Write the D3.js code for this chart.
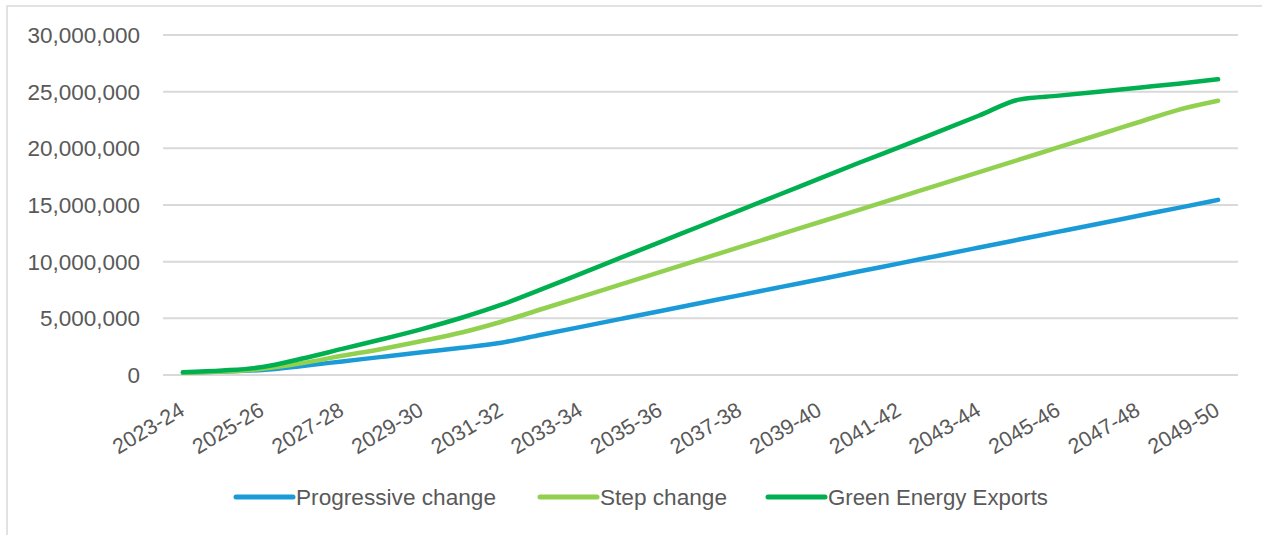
<!DOCTYPE html>
<html lang="en">
<head>
  <meta charset="UTF-8">
  <title>scenarios</title>
  <style>
    body { margin: 0; background: #fff; }
    text { font-family: "Liberation Sans", Arial, sans-serif; fill: #595959; }
  </style>
</head>
<body>
  <script src="https://d3js.org/d3.v7.min.js"></script>
  <script>
  // years 2023-24 .. 2049-50
  var years = [
    "2023-24", "2024-25", "2025-26", "2026-27", "2027-28", "2028-29", "2029-30",
    "2030-31", "2031-32", "2032-33", "2033-34", "2034-35", "2035-36", "2036-37",
    "2037-38", "2038-39", "2039-40", "2040-41", "2041-42", "2042-43", "2043-44",
    "2044-45", "2045-46", "2046-47", "2047-48", "2048-49", "2049-50"
  ];

  var progressive = [
    200000, 300000, 450000, 800000, 1200000, 1600000, 2000000,
    2400000, 2850000, 3550000, 4250000, 4950000, 5650000, 6350000,
    7050000, 7750000, 8450000, 9150000, 9850000, 10550000, 11250000,
    11950000, 12650000, 13350000, 14050000, 14750000, 15450000
  ];

  var stepChange = [
    200000, 300000, 550000, 1050000, 1700000, 2300000, 3000000,
    3750000, 4700000, 5800000, 6900000, 8000000, 9100000, 10200000,
    11300000, 12400000, 13500000, 14600000, 15700000, 16800000, 17900000,
    19000000, 20100000, 21200000, 22300000, 23400000, 24200000
  ];

  var greenExports = [
    250000, 400000, 700000, 1450000, 2300000, 3150000, 4050000,
    5050000, 6200000, 7550000, 8950000, 10350000, 11750000, 13150000,
    14550000, 15950000, 17350000, 18750000, 20100000, 21500000, 22900000,
    24300000, 24650000, 25000000, 25350000, 25700000, 26100000
  ];

  var seriesNames = ["Progressive change", "Step change", "Green Energy Exports"];
  var seriesColors = ["#1a9bd7", "#92d050", "#00b050"];
  var yTicks = [0, 5000000, 10000000, 15000000, 20000000, 25000000, 30000000];

  var w = 1262, h = 535;
  var plotL = 163, plotR = 1238, plotT = 35, plotB = 375;

  var svg = d3.select('body').append('svg')
    .attr('width', w).attr('height', h);

  // chart frame
  svg.append('rect')
    .attr('x', 7).attr('y', 6)
    .attr('width', w + 20).attr('height', h + 20)
    .attr('fill', 'none').attr('stroke', '#d9d9d9').attr('stroke-width', 1.5);

  var x = d3.scalePoint().domain(years).range([plotL, plotR]).padding(0.5);
  var y = d3.scaleLinear().domain([0, 30000000]).range([plotB, plotT]);

  // gridlines
  svg.append('g').selectAll('line')
    .data(yTicks).enter().append('line')
    .attr('x1', plotL).attr('x2', plotR)
    .attr('y1', function (d) { return y(d); })
    .attr('y2', function (d) { return y(d); })
    .attr('stroke', '#d9d9d9').attr('stroke-width', 2);

  // y labels
  var fmt = d3.format(',');
  svg.append('g').selectAll('text')
    .data(yTicks).enter().append('text')
    .attr('x', 140)
    .attr('y', function (d) { return y(d); })
    .attr('dy', '0.35em')
    .attr('text-anchor', 'end')
    .style('font-size', '22.5px')
    .text(function (d) { return fmt(d); });

  // x labels (every second year)
  var shown = years.filter(function (d, i) { return i % 2 === 0; });
  svg.append('g').selectAll('text')
    .data(shown).enter().append('text')
    .attr('transform', function (d) { return 'translate(' + (x(d) + 3) + ',' + 414 + ') rotate(-31)'; })
    .attr('text-anchor', 'end')
    .style('font-size', '21.5px')
    .text(function (d) { return d; });

  // lines
  var allSeries = [progressive, stepChange, greenExports];
  var line = d3.line()
    .x(function (d, i) { return x(years[i]); })
    .y(function (d) { return y(d); })
    .curve(d3.curveMonotoneX);

  svg.append('g').selectAll('path')
    .data(allSeries).enter().append('path')
    .attr('d', function (d) { return line(d); })
    .attr('fill', 'none')
    .attr('stroke', function (d, i) { return seriesColors[i]; })
    .attr('stroke-width', 4.5)
    .attr('stroke-linecap', 'round')
    .attr('stroke-linejoin', 'round');

  // legend
  var legX = [236, 540, 768];
  var legW = [200, 127, 220];
  var leg = svg.append('g').selectAll('g')
    .data(seriesNames).enter().append('g')
    .attr('transform', function (d, i) { return 'translate(' + legX[i] + ',497)'; });
  leg.append('line')
    .attr('x1', 0).attr('x2', 57).attr('y1', 0).attr('y2', 0)
    .attr('stroke', function (d, i) { return seriesColors[i]; })
    .attr('stroke-width', 5)
    .attr('stroke-linecap', 'round');
  leg.append('text')
    .attr('x', 60).attr('dy', '0.35em')
    .attr('textLength', function (d, i) { return legW[i]; })
    .attr('lengthAdjust', 'spacingAndGlyphs')
    .style('font-size', '22px')
    .text(function (d) { return d; });
  </script>
</body>
</html>
